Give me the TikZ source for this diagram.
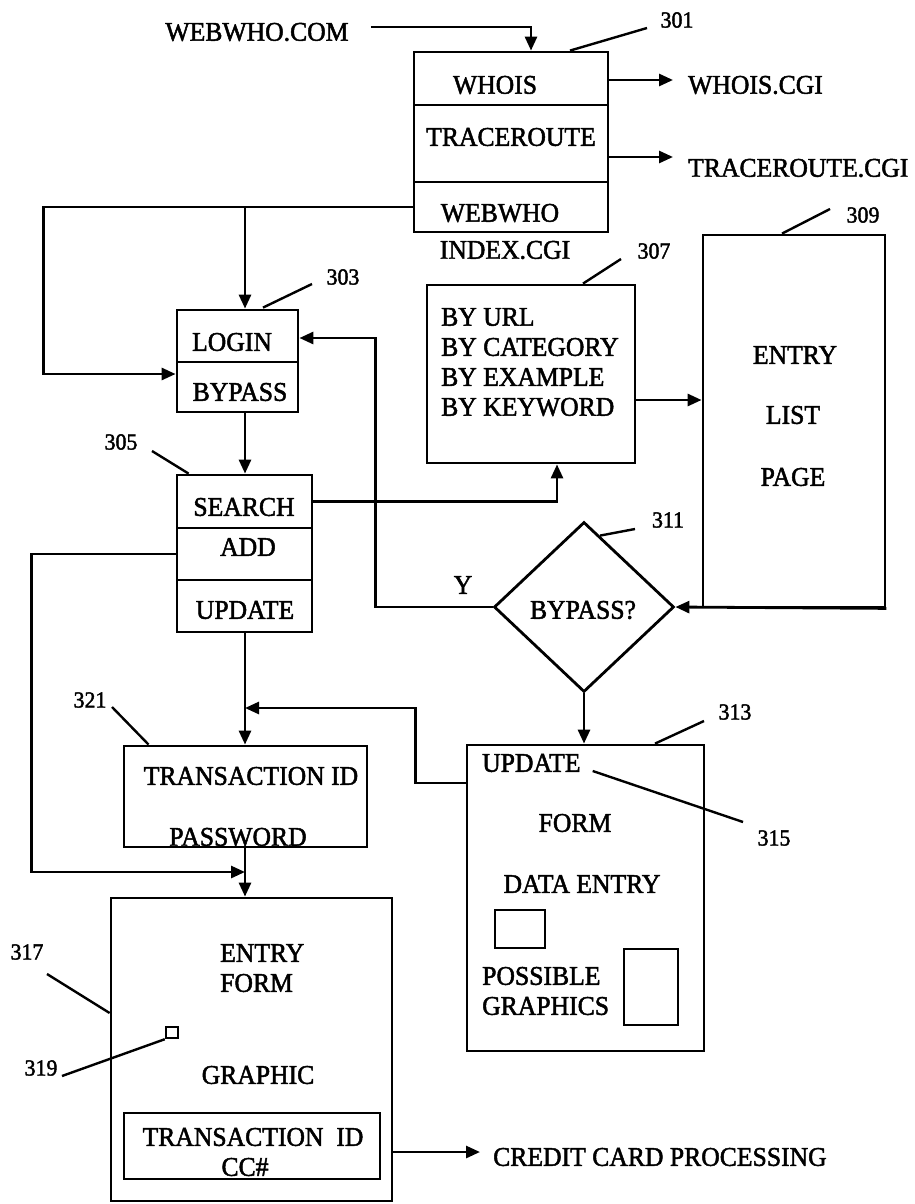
\documentclass[tikz,border=0pt]{standalone}
\usepackage{fontspec}
\setmainfont{Liberation Serif}[FakeStretch=0.95,FakeBold=1.8]
\usetikzlibrary{arrows.meta,shapes.geometric}
\tikzset{
  box/.style={draw, rectangle, line width=2.8pt, inner sep=0pt},
  smallbox/.style={draw, rectangle, line width=2.4pt, inner sep=0pt},
  txt/.style={inner sep=0pt, font=\fontsize{27}{30}\selectfont},
  lbl/.style={inner sep=0pt, font=\fontsize{23}{26}\selectfont},
  conn/.style={line width=2.8pt},
  arr/.style={conn, -{Triangle[length=14pt,width=12pt]}},
  leader/.style={line width=2.4pt},
}
\begin{document}
\begin{tikzpicture}[x=1pt,y=-1pt]
\useasboundingbox (0,0) rectangle (915,1204);

% ---------- box 301 ----------
\node[box, minimum width=194pt, minimum height=53pt] (whoisbox) at (511,78.5) {};
\node[box, minimum width=194pt, minimum height=77pt] (tracebox) at (511,143.5) {};
\node[box, minimum width=194pt, minimum height=50pt] (webwhobox) at (511,207) {};
\node[txt] (twhois) at (495,85) {WHOIS};
\node[txt] (ttrace) at (511,137) {TRACEROUTE};
\node[txt] (twebwho) at (500,213) {WEBWHO};
\node[txt] (tindex) at (505,250) {INDEX.CGI};

\node[txt] (webwhocom) at (257,32) {WEBWHO.COM};
\draw[arr] ([shift={(22,-5)}]webwhocom.east) -| ([shift={(20,0)}]whoisbox.north);

\node[txt, anchor=west] (whoiscgi) at (688,85) {WHOIS.CGI};
\node[txt, anchor=west] (tracecgi) at (688,168) {TRACEROUTE.CGI};
\draw[arr, shorten >=15pt] ([yshift=-1.5pt]whoisbox.east) -- ([yshift=5pt]whoiscgi.west);
\draw[arr, shorten >=15pt] ([yshift=-13.5pt]tracebox.east) -- ([yshift=11pt]tracecgi.west);

\node[lbl] (l301) at (677,20) {301};
\draw[leader] ([shift={(-30,8)}]l301.center) -- ([shift={(59,0)}]whoisbox.north);

% ---------- login / bypass 303 ----------
\node[box, minimum width=121pt, minimum height=52pt] (loginbox) at (237.5,336) {};
\node[box, minimum width=121pt, minimum height=50pt] (bypassbox) at (237.5,387) {};
\node[txt] (tlogin) at (232,342) {LOGIN};
\node[txt] (tbypass) at (240,392) {BYPASS};
\node[lbl] (l303) at (343,277) {303};
\draw[leader] ([shift={(-31,7)}]l303.center) -- ([shift={(25.5,-1)}]loginbox.north);

\coordinate (j0) at (245,207);
\draw[arr] (webwhobox.west) -- ++(-369,0) |- ([yshift=13pt]bypassbox.west);
\draw[arr] (j0) -- (loginbox.north -| j0);

% ---------- search / add / update 305 ----------
\node[box, minimum width=135pt, minimum height=53pt] (searchbox) at (244.5,501.5) {};
\node[box, minimum width=135pt, minimum height=52pt] (addbox) at (244.5,554) {};
\node[box, minimum width=135pt, minimum height=52pt] (updatebox) at (244.5,606) {};
\node[txt] (tsearch) at (244,507) {SEARCH};
\node[txt] (tadd) at (248,547) {ADD};
\node[txt] (tupdate) at (245,610) {UPDATE};
\node[lbl] (l305) at (121,442) {305};
\draw[leader] ([shift={(31,9)}]l305.center) -- ([shift={(13,0)}]searchbox.north west);
\draw[arr] (bypassbox.south -| j0) -- (searchbox.north -| j0);

% ---------- 307 ----------
\node[box, minimum width=208pt, minimum height=178pt] (box307) at (531,374) {};
\node[txt, anchor=west] (tbyurl) at (441,317) {BY URL};
\node[txt, anchor=west] (tbycat) at (441,347) {BY CATEGORY};
\node[txt, anchor=west] (tbyex) at (441,377) {BY EXAMPLE};
\node[txt, anchor=west] (tbykey) at (441,407) {BY KEYWORD};
\node[lbl] (l307) at (654,251) {307};
\draw[leader] ([shift={(-33,8)}]l307.center) -- ([shift={(52,0)}]box307.north);
\draw[arr] (searchbox.east) -| ([xshift=26pt]box307.south);

% ---------- 309 ----------
\node[box, minimum width=182pt, minimum height=372pt] (box309) at (794,421) {};
\node[txt] (tentry9) at (795,355) {ENTRY};
\node[txt] (tlist9) at (793,415) {LIST};
\node[txt] (tpage9) at (793,477) {PAGE};
\node[lbl] (l309) at (863,215) {309};
\draw[leader] ([shift={(-33,-6)}]l309.center) -- ([shift={(-12,0)}]box309.north);
\draw[arr] ([yshift=-26pt]box307.east) -- ([yshift=21pt]box309.west);

% ---------- diamond 311 ----------
\node[draw, diamond, line width=2.8pt, minimum width=180pt, minimum height=170pt, inner sep=0pt] (d311) at (584,607) {};
\node[txt] (tbyp) at (583,610) {BYPASS?};
\node[lbl] (l311) at (668,520) {311};
\draw[leader] ([shift={(-33,9)}]l311.center) -- ([shift={(16,15)}]d311.north);
\draw[arr] (box309.south east) -- (d311.east);
\draw[arr] (d311.west) -- ++(-117,0) |- ([yshift=-2pt]loginbox.east);
\node[txt] (ty) at (463,585) {Y};

% ---------- 313 ----------
\node[box, minimum width=237pt, minimum height=306pt] (box313) at (585.5,898) {};
\node[txt, anchor=west] (tupd) at (482,763) {UPDATE};
\node[txt] (tform3) at (575,823) {FORM};
\node[txt] (tdata) at (582,884) {DATA ENTRY};
\node[smallbox, minimum width=50pt, minimum height=38pt] (sq313a) at (520,929) {};
\node[txt, anchor=west] (tposs) at (482,976) {POSSIBLE};
\node[txt, anchor=west] (tgraphs) at (482,1006) {GRAPHICS};
\node[smallbox, minimum width=54pt, minimum height=76pt] (sq313b) at (651,987) {};
\node[lbl] (l313) at (735,712) {313};
\draw[leader] ([shift={(-31,9)}]l313.center) -- ([shift={(69.5,0)}]box313.north);
\node[lbl] (l315) at (774,838) {315};
\draw[leader] ([shift={(-31,-16)}]l315.center) -- ([shift={(12,8)}]tupd.east);
\draw[arr] (d311.south) -- (box313.north -| d311.south);

% ---------- 321 ----------
\node[box, minimum width=243pt, minimum height=101pt] (box321) at (245.5,796.5) {};
\node[txt] (ttrans1) at (251,776) {TRANSACTION ID};
\node[txt] (tpass) at (238,837) {PASSWORD};
\node[lbl] (l321) at (90,700) {321};
\draw[leader] ([shift={(22,7)}]l321.center) -- ([shift={(26,0)}]box321.north west);

\coordinate (j1) at (245,708);
\coordinate (j2) at (245,872);
\draw[arr] (updatebox.south -| j1) -- (box321.north -| j1);
\draw[arr] ([yshift=115pt]box313.west) -- ++(-50,0) |- (j1);
\draw[arr] (addbox.west) -- ++(-144,0) |- (j2);

% ---------- 317 ----------
\node[box, minimum width=281pt, minimum height=303pt] (box317) at (251.5,1049.5) {};
\node[txt, anchor=west] (tentry7) at (220,953) {ENTRY};
\node[txt, anchor=west] (tform7) at (220,983) {FORM};
\node[txt] (tgraphic) at (258,1075) {GRAPHIC};
\node[smallbox, minimum width=12pt, minimum height=11pt] (sq319) at (172,1032.5) {};
\node[box, minimum width=256pt, minimum height=66pt] (inner317) at (252,1146) {};
\node[txt] (ttrans2) at (253,1137) {TRANSACTION~~ID};
\node[txt] (tcc) at (245,1167) {CC\#};
\node[lbl] (l317) at (27,952) {317};
\draw[leader] ([shift={(20,22)}]l317.center) -- ([shift={(0,-36.5)}]box317.west);
\node[lbl] (l319) at (41,1068) {319};
\draw[leader] ([shift={(21,8)}]l319.center) -- (sq319.south west);
\draw[arr] (box321.south -| j1) -- (box317.north -| j1);

\node[txt, anchor=west] (ccp) at (493,1157) {CREDIT CARD PROCESSING};
\draw[arr, shorten >=13pt] ([yshift=-102.5pt]box317.east) -- ([yshift=5pt]ccp.west);
\end{tikzpicture}
\end{document}
